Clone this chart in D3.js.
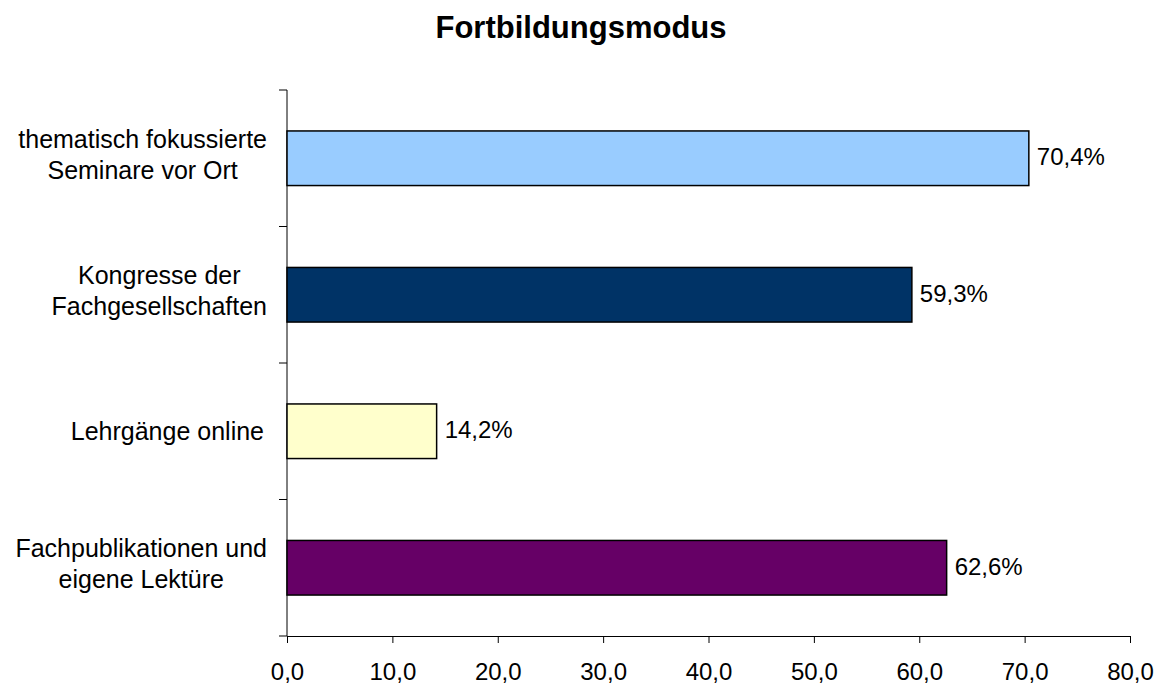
<!DOCTYPE html>
<html>
<head>
<meta charset="utf-8">
<script src="https://cdn.jsdelivr.net/npm/d3@7"></script>
<style>
  body { margin: 0; background: #fff; }
  text { font-family: "Liberation Sans", Arial, sans-serif; fill: #000; }
</style>
</head>
<body>
<div id="chart"></div>
<script>
const title = 'Fortbildungsmodus';
const categories = [
  ['thematisch fokussierte', 'Seminare vor Ort'],
  ['Kongresse der', 'Fachgesellschaften'],
  ['Lehrgänge online'],
  ['Fachpublikationen und', 'eigene Lektüre']
];
const values = [70.4, 59.3, 14.2, 62.6];
const colors = ['#99CCFF', '#003366', '#FFFFCC', '#660066'];
const xTicks = [0, 10, 20, 30, 40, 50, 60, 70, 80];

const config = {
  width: 1160, height: 686,
  margin: { top: 90, right: 30, bottom: 50, left: 287 }
};
const innerW = 1130 - config.margin.left;
const innerH = 636 - config.margin.top;

const svg = d3.select('#chart').append('svg')
  .attr('width', config.width).attr('height', config.height);

svg.append('text')
  .attr('x', 581).attr('y', 38)
  .attr('text-anchor', 'middle')
  .attr('font-size', 31).attr('font-weight', 'bold')
  .text(title);

const g = svg.append('g')
  .attr('transform', 'translate(' + config.margin.left + ',' + config.margin.top + ')');

const idx = d3.range(categories.length);
const scaleY = d3.scaleBand()
  .domain(idx)
  .range([0, innerH])
  .paddingInner(0.6)
  .paddingOuter(0.3);
const scaleX = d3.scaleLinear()
  .domain([0, 80])
  .range([0, innerW]);

// x axis
g.append('g')
  .attr('transform', 'translate(0,' + innerH + ')')
  .call(d3.axisBottom(scaleX).tickValues(xTicks).tickSizeInner(7).tickSizeOuter(0)
    .tickFormat(d => d3.format('.1f')(d).replace('.', ',')))
  .call(a => a.select('.domain').attr('stroke', '#000'))
  .call(a => a.selectAll('.tick line').attr('stroke', '#000'))
  .call(a => a.selectAll('.tick text').attr('font-size', 24).attr('y', 27)
    .attr('font-family', '"Liberation Sans", Arial, sans-serif').attr('fill', '#000'));

// y axis line + ticks at band boundaries
const step = scaleY.step();
const yBounds = d3.range(categories.length + 1).map(i => i * step);
g.append('line')
  .attr('x1', 0).attr('x2', 0).attr('y1', 0).attr('y2', innerH)
  .attr('stroke', '#000');
g.selectAll('.ytick').data(yBounds).enter().append('line')
  .attr('x1', -8).attr('x2', 0)
  .attr('y1', d => d).attr('y2', d => d)
  .attr('stroke', '#000');

// bars
g.selectAll('.bar').data(values).enter().append('rect')
  .attr('x', 0)
  .attr('y', (d, i) => scaleY(i))
  .attr('width', d => scaleX(d))
  .attr('height', scaleY.bandwidth())
  .attr('fill', (d, i) => colors[i])
  .attr('stroke', '#000')
  .attr('stroke-width', 1.5);

// value labels
g.selectAll('.val').data(values).enter().append('text')
  .attr('x', d => scaleX(d) + 8)
  .attr('y', (d, i) => scaleY(i) + scaleY.bandwidth() / 2 + 7)
  .attr('font-size', 24)
  .text(d => d3.format('.1f')(d).replace('.', ',') + '%');

// category labels: block right-aligned, lines centered
const lineH = 31;
categories.forEach((lines, i) => {
  const t = g.append('text')
    .attr('font-size', 25)
    .attr('text-anchor', 'middle');
  const spans = lines.map(l => t.append('tspan').text(l));
  const maxW = d3.max(spans, s => s.node().getComputedTextLength());
  const cx = (lines.length > 1 ? -20 : -23) - maxW / 2;
  const cy = scaleY(i) + scaleY.bandwidth() / 2;
  const off = lines.length > 1 ? 5 : 8.5;
  spans.forEach((s, j) => s
    .attr('x', cx)
    .attr('y', cy + (j - (lines.length - 1) / 2) * lineH + off));
});
</script>
</body>
</html>
